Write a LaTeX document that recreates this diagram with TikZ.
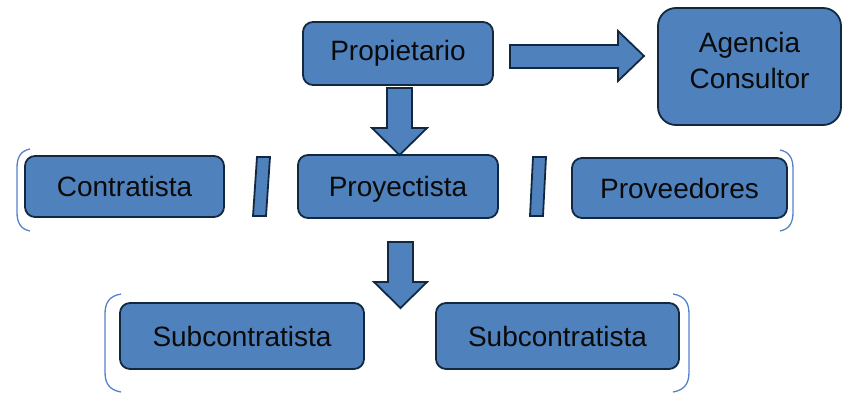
\documentclass[tikz,border=0pt]{standalone}
\usepackage{fontspec}
\setmainfont{Liberation Sans}
\begin{document}
\begin{tikzpicture}[x=1pt,y=-1pt,
  boxfill/.style={fill={rgb,255:red,79;green,129;blue,189}},
  boxline/.style={draw={rgb,255:red,18;green,40;blue,64},line width=1.8pt},
  box/.style={boxfill,boxline,rounded corners=10pt,inner sep=0pt,
    font=\fontsize{28}{34}\selectfont,text={rgb,255:red,10;green,10;blue,10}},
  blockarrow/.style={boxfill,boxline,line join=miter},
  brk/.style={draw={rgb,255:red,84;green,130;blue,200},line width=1.3pt}
]
\useasboundingbox (0,0) rectangle (843,393);

\node[box,minimum width=190pt,minimum height=63pt] (prop) at (398,53.5) {Propietario};
\node[box,rounded corners=18pt,minimum width=183pt,minimum height=117pt] (agen) at (749.5,66.5) {\raisebox{3pt}[\height][\depth]{\begin{tabular}{@{}c@{}}Agencia\\[2pt]Consultor\end{tabular}}};
\node[box,minimum width=199pt,minimum height=61pt] (contr) at (124.5,186.5) {Contratista};
\node[box,minimum width=200pt,minimum height=63pt] (proy) at (398,186.5) {\raisebox{-3pt}[\height][\depth]{Proyectista}};
\node[box,minimum width=215pt,minimum height=60pt] (prov) at (679.5,188) {Proveedores};
\node[box,minimum width=244pt,minimum height=66pt] (sub1) at (242,336) {Subcontratista};
\node[box,minimum width=243pt,minimum height=66pt] (sub2) at (557.5,336) {Subcontratista};

% block arrows
\draw[blockarrow] (510,45) -- (618,45) -- (618,31) -- (644,56) -- (618,81) -- (618,68) -- (510,68) -- cycle;
\draw[blockarrow] (387,88) -- (412,88) -- (412,128) -- (427,128) -- (399.5,155) -- (372,128) -- (387,128) -- cycle;
\draw[blockarrow] (388,242) -- (413,242) -- (413,282) -- (427,282) -- (400.5,308) -- (374,282) -- (388,282) -- cycle;

% slashes
\draw[blockarrow] (257,157) -- (270,157) -- (266,216) -- (253,216) -- cycle;
\draw[blockarrow] (533,157) -- (546,157) -- (543,216) -- (530,216) -- cycle;

% brackets
\draw[brk] (30,149) .. controls (20,151) and (17,158) .. (17,168) -- (17,212) .. controls (17,222) and (20,229) .. (30,231);
\draw[brk] (780,150) .. controls (790,152) and (793,159) .. (793,169) -- (793,212) .. controls (793,222) and (790,229) .. (780,231);
\draw[brk] (121,294) .. controls (109,296) and (105,303) .. (105,314) -- (105,372) .. controls (105,383) and (109,390) .. (121,392);
\draw[brk] (673,294) .. controls (685,296) and (689,303) .. (689,314) -- (689,372) .. controls (689,383) and (685,390) .. (673,392);
\end{tikzpicture}
\end{document}
